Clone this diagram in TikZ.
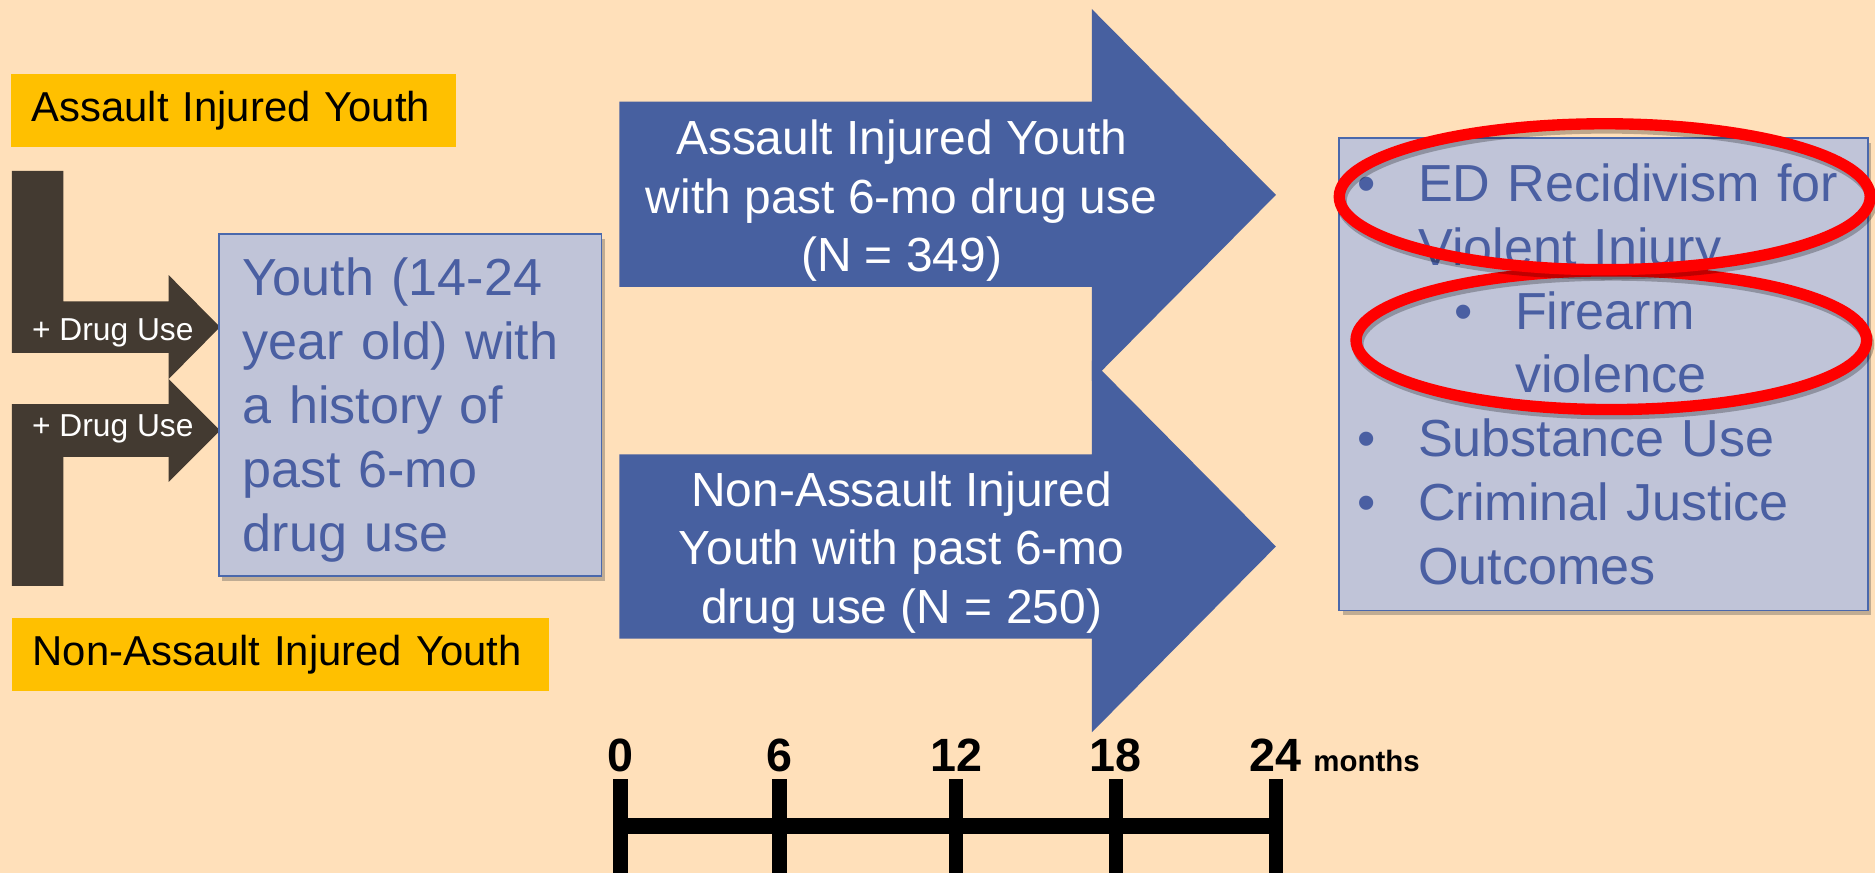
\documentclass[tikz,border=0pt]{standalone}
\usepackage{fontspec}
\setmainfont{Liberation Sans}
\usepackage{xcolor}
\usepackage{tikz}
\usetikzlibrary{positioning,shadows}
\definecolor{peach}{HTML}{FFE0BA}
\definecolor{tagyellow}{HTML}{FFC000}
\definecolor{drugbrown}{HTML}{433A31}
\definecolor{armblue}{HTML}{4760A0}
\definecolor{boxfill}{HTML}{C0C4D8}
\definecolor{boxline}{HTML}{4A68AC}
\definecolor{boxtext}{HTML}{4A5FA2}
\definecolor{ringred}{HTML}{FF0000}

\begin{document}
\begin{tikzpicture}[x=0.2mm,y=-0.2mm,
  tag/.style={fill=tagyellow,anchor=west,minimum height=12.2mm,inner xsep=3.4mm,
              align=left,font=\fontsize{19.9}{24}\selectfont},
  drug/.style={text=white,anchor=base west,inner sep=0pt,
               font=\fontsize{15.1}{18}\selectfont},
  card/.style={draw=boxline,line width=0.3mm,fill=boxfill,text=boxtext,align=left,
               font=\fontsize{24.8}{30.4}\selectfont,
               drop shadow={shadow xshift=0.6mm,shadow yshift=-0.8mm,
                            opacity=0.35,fill=black!70}},
  armtext/.style={text=white,align=center,font=\fontsize{22.8}{27.8}\selectfont},
  tickbar/.style={line width=2.4mm},
  digit/.style={anchor=base,inner sep=0pt,font=\fontsize{22.2}{26}\selectfont\bfseries},
  ring/.style={draw=ringred,line width=1.9mm},
  ringshade/.style={draw=black,opacity=0.25,line width=1.9mm}
]
\fill[peach] (0,0) rectangle (1568,730);
\useasboundingbox (0,0) rectangle (1568,730);

% group labels
\node[tag,text width=67.6mm] (tagA) at (9.2,92.2) {Assault Injured Youth};
\node[tag,text width=83mm] (tagN) at (10,547.5) {Non-Assault Injured Youth};

% the two brown feeder arrows
\fill[drugbrown] (10,143) -- (53,143) -- (53,252) -- (141,252) -- (141,230)
  -- (184,273.5) -- (141,317) -- (141,295) -- (10,295) -- cycle;
\fill[drugbrown] (10,338) -- (141,338) -- (141,317) -- (184,360) -- (141,403)
  -- (141,382) -- (53,382) -- (53,490) -- (10,490) -- cycle;
\node[drug] (drugA) at (26.5,285) {+ Drug Use};
\node[drug] (drugN) at (26.5,365) {+ Drug Use};

\node[card,text width=56mm,inner xsep=4mm,minimum height=57.2mm] (youth) at (343,339)
  {\rule{0pt}{0.91em}Youth (14-24\\year old) with\\a history of\\past 6-mo\\drug use};

% cohort arrows
\fill[armblue] (518,85) -- (913,85) -- (913,7.5) -- (1067,163) -- (913,318.5)
  -- (913,240) -- (518,240) -- cycle;
\fill[armblue] (518,380) -- (913,380) -- (913,301.5) -- (1067,457) -- (913,612.5)
  -- (913,534) -- (518,534) -- cycle;
\node[armtext] (armA) at (754,168)
  {Assault Injured Youth\\with past 6-mo drug use\\(N = 349)};
\node[armtext] (armN) at (754,462)
  {Non-Assault Injured\\Youth with past 6-mo\\drug use (N = 250)};

\node[card,text width=82.4mm,inner xsep=3mm,minimum height=79mm] (outc) at (1341,313)
  {\makebox[10.2mm][l]{\textbullet}ED Recidivism for\\
   \hspace*{10.2mm}Violent Injury\\
   \hspace*{16.2mm}\makebox[10.2mm][l]{\textbullet}Firearm\\
   \hspace*{26.4mm}violence\\
   \makebox[10.2mm][l]{\textbullet}Substance Use\\
   \makebox[10.2mm][l]{\textbullet}Criminal Justice\\
   \hspace*{10.2mm}Outcomes};

% red rings
\coordinate (ringA) at (1342,164.5);
\coordinate (ringB) at (1347.5,284.5);
\draw[ringshade] ([shift={(1.5,3.5)}]ringB) ellipse [x radius=42.7mm,y radius=11.6mm];
\draw[ring] (ringB) ellipse [x radius=42.7mm,y radius=11.6mm];
\draw[ringshade] ([shift={(1.5,3.5)}]ringA) ellipse [x radius=44.4mm,y radius=12.2mm];
\draw[ring] (ringA) ellipse [x radius=44.4mm,y radius=12.2mm];

% timeline
\foreach \m/\x in {0/519,6/652,12/799.6,18/933,24/1067} {
  \coordinate (m\m) at (\x,691);
  \draw[tickbar] (\x,651.6) -- (\x,745);
  \node[digit] (d\m) at (\x,645) {\m};
}
\draw[line width=2.7mm] (m0) -- (m24);
\node[anchor=base west,inner sep=0pt,font=\fontsize{14}{16}\selectfont\bfseries]
  (unit) at (1098,645) {months};
\end{tikzpicture}
\end{document}
